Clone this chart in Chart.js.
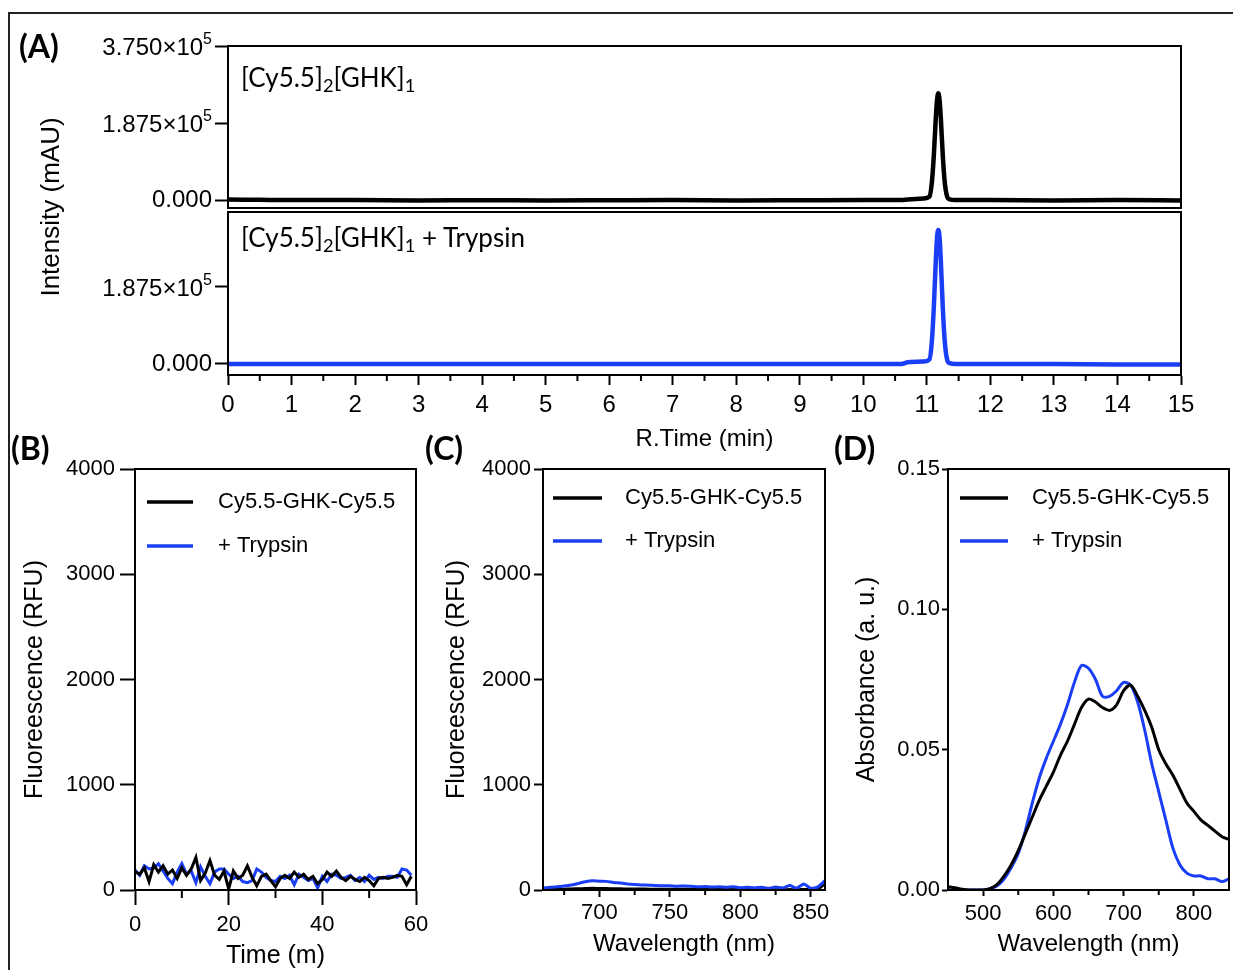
<!DOCTYPE html>
<html>
<head>
<meta charset="utf-8">
<script src="https://cdn.jsdelivr.net/npm/chart.js@4.4.1/dist/chart.umd.min.js"></script>
<style>
  body { margin: 0; background: #fff; width: 1233px; height: 970px; position: relative; overflow: hidden;
         font-family: 'Liberation Sans', Arial, sans-serif; color: #000; }
  .frame { position: absolute; left: 8px; top: 12px; width: 1300px; height: 1000px;
           border-left: 2px solid #222; border-top: 2px solid #222; }
  .box { position: absolute; }
  .panel { position: absolute; font-family: Lato, 'Open Sans', sans-serif; font-weight: bold; font-size: 32px; line-height: 32px; }
  .note { position: absolute; font-family: Lato, 'Open Sans', sans-serif; font-size: 26px; line-height: 26px; white-space: nowrap; }
  .note sub { font-size: 0.7em; vertical-align: -0.3em; line-height: 0; }
  #ytitle { position: absolute; left: 50px; top: 207px; transform: translate(-50%, -50%) rotate(-90deg);
            white-space: nowrap; font-size: 26px; }
</style>
</head>
<body>
<div class="frame"></div>

<div class="box" style="left:0;top:30px"><canvas id="aTop" width="1233" height="200"></canvas></div>
<div class="box" style="left:0;top:190px"><canvas id="aBottom" width="1233" height="280"></canvas></div>
<div class="box" style="left:0;top:420px"><canvas id="chartB" width="440" height="570"></canvas></div>
<div class="box" style="left:430px;top:420px"><canvas id="chartC" width="420" height="570"></canvas></div>
<div class="box" style="left:840px;top:420px"><canvas id="chartD" width="420" height="570"></canvas></div>

<div class="panel" style="left:19px;top:30px">(A)</div>
<div class="panel" style="left:11px;top:432px">(B)</div>
<div class="panel" style="left:425px;top:432px">(C)</div>
<div class="panel" style="left:834px;top:432px">(D)</div>
<div class="note" style="left:241px;top:64px">[Cy5.5]<sub>2</sub>[GHK]<sub>1</sub></div>
<div class="note" style="left:241px;top:224px">[Cy5.5]<sub>2</sub>[GHK]<sub>1</sub> + Trypsin</div>
<div id="ytitle">Intensity (mAU)</div>

<script>
// (A) HPLC traces
const rtTime = [0, 0.5, 1, 2, 3, 4, 5, 6, 7, 8, 9, 10, 10.6, 10.7, 10.95, 11.04, 11.08, 11.11, 11.14, 11.16,
  11.18, 11.2, 11.22, 11.25, 11.28, 11.32, 11.36, 11.45, 12, 13, 14, 15];
const rtProbe = [1000, 500, 0, 0, -1000, -500, -1000, -500, 0, -1000, -500, 0, 0, 1500, 3500, 8000, 45000,
  110000, 198000, 243000, 260000, 243000, 198000, 110000, 45000, 8000, 1500, 0, 0, -1000, 0, -1000];
const rtTrypsin = [0, 0, 0, 0, 0, 0, 0, 0, 0, 0, 0, 0, 0, 4000, 6000, 11000, 58000, 140000, 250000, 308000,
  326000, 308000, 250000, 140000, 58000, 10000, 2000, 0, 0, 0, -1000, -1000];
const rtTicks = [0, 1, 2, 3, 4, 5, 6, 7, 8, 9, 10, 11, 12, 13, 14, 15];
const aTopTicks = [0, 187500, 375000];
const aBottomTicks = [0, 187500];

// (B) fluorescence vs time
const kinTime = [0, 1, 2, 3, 4, 5, 6, 7, 8, 9, 10, 11, 12, 13, 14, 15, 16, 17, 18, 19, 20, 21, 22, 23, 24, 25,
  26, 27, 28, 29, 30, 31, 32, 33, 34, 35, 36, 37, 38, 39, 40, 41, 42, 43, 44, 45, 46, 47, 48, 49, 50, 51, 52,
  53, 54, 55, 56, 57, 58, 59];
const kinProbe = [175, 150, 210, 80, 240, 170, 230, 150, 190, 110, 210, 140, 200, 310, 90, 160, 280, 140, 100,
  180, 10, 180, 110, 140, 230, 120, 40, 130, 150, 90, 30, 110, 140, 110, 170, 120, 150, 100, 130, 60, 100, 170,
  130, 180, 120, 90, 130, 100, 80, 120, 90, 40, 110, 120, 110, 120, 140, 130, 50, 130];
const kinTrypsin = [190, 140, 230, 200, 210, 250, 180, 110, 60, 170, 250, 150, 180, 70, 220, 130, 60, 170, 200,
  200, 150, 110, 130, 80, 70, 90, 200, 170, 120, 90, 80, 130, 110, 140, 50, 150, 120, 90, 110, 20, 130, 80, 150,
  140, 110, 120, 140, 90, 120, 80, 140, 100, 120, 110, 130, 130, 120, 200, 190, 140];
const kinXTicks = [0, 20, 40, 60];
const fluoYTicks = [0, 1000, 2000, 3000, 4000];

// (C) emission spectra
const emWave = [660, 665, 670, 675, 680, 685, 690, 695, 700, 705, 710, 715, 720, 725, 730, 735, 740, 745, 750,
  755, 760, 765, 770, 775, 780, 785, 790, 795, 800, 805, 810, 815, 820, 825, 830, 835, 840, 845, 850, 855, 860];
const emProbe = [5, 5, 6, 8, 10, 12, 14, 16, 15, 14, 12, 11, 10, 9, 9, 8, 8, 7, 7, 6, 6, 6, 5, 5, 5, 5, 4, 4, 4,
  4, 4, 4, 3, 3, 3, 4, 3, 5, 4, 10, 60];
const emTrypsin = [20, 25, 30, 38, 48, 62, 78, 88, 84, 82, 72, 66, 58, 52, 48, 46, 42, 41, 40, 36, 38, 35, 30,
  33, 28, 30, 25, 30, 22, 26, 20, 26, 16, 28, 20, 42, 18, 58, 15, 30, 90];
const emXTicks = [700, 750, 800, 850];

// (D) absorbance spectra
const absWave = [450, 460, 470, 480, 490, 500, 510, 520, 530, 540, 550, 560, 570, 580, 590, 600, 610, 620, 630,
  640, 650, 660, 670, 680, 690, 700, 710, 720, 730, 740, 750, 760, 770, 780, 790, 800, 810, 820, 830, 840, 850];
const absProbe = [0.0012, 0.0008, 0.0003, 0, 0, 0, 0.0005, 0.002, 0.005, 0.009, 0.014, 0.020, 0.026, 0.032,
  0.037, 0.042, 0.048, 0.053, 0.059, 0.065, 0.068, 0.067, 0.065, 0.064, 0.066, 0.071, 0.073, 0.069, 0.064,
  0.058, 0.050, 0.045, 0.041, 0.036, 0.031, 0.028, 0.025, 0.023, 0.021, 0.019, 0.018];
const absTrypsin = [0, 0, 0, 0, 0, 0, 0.0005, 0.0015, 0.004, 0.008, 0.013, 0.021, 0.031, 0.040, 0.047, 0.053,
  0.059, 0.066, 0.074, 0.080, 0.079, 0.075, 0.069, 0.069, 0.071, 0.074, 0.073, 0.067, 0.057, 0.045, 0.035,
  0.025, 0.015, 0.009, 0.006, 0.005, 0.005, 0.004, 0.004, 0.003, 0.004];
const absXTicks = [500, 600, 700, 800];
const absYTicks = [0, 0.05, 0.10, 0.15];

const BLACK = '#000000';
const BLUE = '#1a3ef5';
const FONT = "'Liberation Sans', Arial, sans-serif";

Chart.defaults.font.family = FONT;
Chart.defaults.color = '#000';

const pts = (xs, ys) => xs.map((x, i) => ({ x: x, y: ys[i] }));

// box around the plot area
const framePlugin = {
  id: 'frame',
  afterDraw(chart) {
    const { ctx, chartArea: a } = chart;
    ctx.save();
    ctx.strokeStyle = '#000';
    ctx.lineWidth = 2;
    ctx.strokeRect(a.left, a.top, a.right - a.left, a.bottom - a.top);
    ctx.restore();
  }
};

// short unlabelled ticks between the labelled ones
const minorPlugin = {
  id: 'minor',
  afterDraw(chart, args, o) {
    if (!o.values) return;
    const s = chart.scales.x, ctx = chart.ctx;
    ctx.save();
    ctx.strokeStyle = '#000';
    ctx.lineWidth = 2;
    ctx.beginPath();
    o.values.forEach(v => {
      const px = s.getPixelForValue(v);
      ctx.moveTo(px, s.top);
      ctx.lineTo(px, s.top + o.len);
    });
    ctx.stroke();
    ctx.restore();
  }
};

// y labels of the HPLC panels: mantissa x 10 with a raised exponent
const sciLabels = {
  id: 'sciLabels',
  afterDraw(chart, args, o) {
    if (!o.right) return;
    const s = chart.scales.y, ctx = chart.ctx;
    const x = s.right - o.right;
    ctx.save();
    ctx.fillStyle = '#000';
    ctx.textBaseline = 'middle';
    ctx.textAlign = 'right';
    s.ticks.forEach(t => {
      const y = s.getPixelForValue(t.value);
      if (t.value === 0) {
        ctx.font = '24px ' + FONT;
        ctx.fillText('0.000', x, y);
        return;
      }
      ctx.font = '16px ' + FONT;
      ctx.fillText('5', x, y - 6);
      const w = ctx.measureText('5').width;
      ctx.font = '24px ' + FONT;
      ctx.fillText((t.value / 1e5).toFixed(3) + '×10', x - w, y + 2);
    });
    ctx.restore();
  }
};

// legend drawn inside the plot, line sample + label
const innerLegend = {
  id: 'innerLegend',
  afterDraw(chart, args, o) {
    if (o.x === undefined) return;
    const { ctx, chartArea: a } = chart;
    ctx.save();
    ctx.font = '22px ' + FONT;
    ctx.textBaseline = 'middle';
    ctx.fillStyle = '#000';
    chart.data.datasets.forEach((ds, i) => {
      const y = a.top + o.y + i * o.dy;
      ctx.strokeStyle = ds.borderColor;
      ctx.lineWidth = 3.5;
      ctx.beginPath();
      ctx.moveTo(a.left + o.x, y);
      ctx.lineTo(a.left + o.x + o.len, y);
      ctx.stroke();
      ctx.fillText(ds.label, a.left + o.textX, y);
    });
    ctx.restore();
  }
};

function yAxis(o) {
  return {
    type: 'linear', position: 'left', min: o.min, max: o.max,
    afterFit: s => { s.width = o.width; },
    afterBuildTicks: s => { s.ticks = o.ticks.map(v => ({ value: v })); },
    border: { display: true, color: '#000', width: 2 },
    grid: { drawOnChartArea: false, tickLength: o.tl, tickColor: '#000', tickWidth: 2 },
    ticks: { display: o.labels !== false, padding: o.pad, font: { size: o.size }, color: '#000', callback: o.fmt },
    title: o.title
      ? { display: true, text: o.title, color: '#000', font: { size: 25 }, padding: { top: o.titlePad, bottom: 0 } }
      : { display: false }
  };
}

function xAxis(o) {
  return {
    type: 'linear', position: 'bottom', min: o.min, max: o.max, display: o.display !== false,
    afterFit: s => { s.height = o.height; },
    afterBuildTicks: s => { s.ticks = o.ticks.map(v => ({ value: v })); },
    border: { display: true, color: '#000', width: 2 },
    grid: { drawOnChartArea: false, tickLength: o.tl, tickColor: '#000', tickWidth: 2 },
    ticks: { padding: o.pad, font: { size: o.size }, color: '#000', maxRotation: 0, autoSkip: false },
    title: o.title
      ? { display: true, text: o.title, color: '#000', font: { size: o.titleSize || 24 }, padding: { top: 0, bottom: 0 } }
      : { display: false }
  };
}

function line(label, xs, ys, color, width, extra) {
  return Object.assign({
    label: label, data: pts(xs, ys), borderColor: color, backgroundColor: color,
    borderWidth: width, pointRadius: 0, fill: false, tension: 0
  }, extra || {});
}

const base = {
  type: 'line',
  plugins: [framePlugin, minorPlugin, innerLegend, sciLabels]
};
const commonOptions = {
  responsive: false, animation: false, events: [],
  plugins: { legend: { display: false }, tooltip: { enabled: false } }
};

const rtMinor = [0.5, 1.5, 2.5, 3.5, 4.5, 5.5, 6.5, 7.5, 8.5, 9.5, 10.5, 11.5, 12.5, 13.5, 14.5];

new Chart(document.getElementById('aTop'), Object.assign({}, base, {
  data: { datasets: [line('[Cy5.5]2[GHK]1', rtTime, rtProbe, BLACK, 4.5, { cubicInterpolationMode: 'monotone' })] },
  options: Object.assign({}, commonOptions, {
    layout: { padding: { left: 0, top: 16, right: 52, bottom: 22 } },
    plugins: Object.assign({}, commonOptions.plugins, { sciLabels: { right: 16 } }),
    scales: {
      x: xAxis({ min: 0, max: 15, ticks: rtTicks, display: false, height: 0, tl: 10, pad: 6, size: 24 }),
      y: yAxis({ min: -19480, max: 375000, ticks: aTopTicks, width: 228, tl: 13, pad: 3, size: 22, labels: false })
    }
  })
}));

new Chart(document.getElementById('aBottom'), Object.assign({}, base, {
  data: { datasets: [line('[Cy5.5]2[GHK]1 + Trypsin', rtTime, rtTrypsin, BLUE, 4.5, { cubicInterpolationMode: 'monotone' })] },
  options: Object.assign({}, commonOptions, {
    layout: { padding: { left: 0, top: 22, right: 52, bottom: 16 } },
    plugins: Object.assign({}, commonOptions.plugins, {
      minor: { values: rtMinor, len: 6 },
      sciLabels: { right: 16 }
    }),
    scales: {
      x: xAxis({ min: 0, max: 15, ticks: rtTicks, height: 79, tl: 10, pad: 6, size: 24, title: 'R.Time (min)' }),
      y: yAxis({ min: -26786, max: 370130, ticks: aBottomTicks, width: 228, tl: 13, pad: 3, size: 22, labels: false })
    }
  })
}));

new Chart(document.getElementById('chartB'), Object.assign({}, base, {
  data: {
    datasets: [
      line('Cy5.5-GHK-Cy5.5', kinTime, kinProbe, BLACK, 3),
      line('+ Trypsin', kinTime, kinTrypsin, BLUE, 3)
    ]
  },
  options: Object.assign({}, commonOptions, {
    layout: { padding: { left: 0, top: 49, right: 24, bottom: 19 } },
    plugins: Object.assign({}, commonOptions.plugins, {
      minor: { values: [10, 30, 50], len: 8 },
      innerLegend: { x: 12, len: 46, textX: 83, y: 33, dy: 44 }
    }),
    scales: {
      x: xAxis({ min: 0, max: 60, ticks: kinXTicks, height: 81, tl: 15, pad: 7, size: 22, title: 'Time (m)', titleSize: 25 }),
      y: yAxis({ min: 0, max: 4000, ticks: fluoYTicks, width: 135, tl: 15, pad: 5, size: 22,
                 title: 'Fluoreescence (RFU)', titlePad: 20 })
    }
  })
}));

new Chart(document.getElementById('chartC'), Object.assign({}, base, {
  data: {
    datasets: [
      line('Cy5.5-GHK-Cy5.5', emWave, emProbe, BLACK, 3, { order: 1, tension: 0.2 }),
      line('+ Trypsin', emWave, emTrypsin, BLUE, 3, { order: 0, tension: 0.2 })
    ]
  },
  options: Object.assign({}, commonOptions, {
    layout: { padding: { left: 0, top: 49, right: 25, bottom: 31 } },
    plugins: Object.assign({}, commonOptions.plugins, {
      minor: { values: [675, 725, 775, 825], len: 5 },
      innerLegend: { x: 10, len: 49, textX: 82, y: 29, dy: 43 }
    }),
    scales: {
      x: xAxis({ min: 660, max: 860, ticks: emXTicks, height: 69, tl: 7, pad: 3, size: 22, title: 'Wavelength (nm)' }),
      y: yAxis({ min: 0, max: 4000, ticks: fluoYTicks, width: 113, tl: 9, pad: 3, size: 22,
                 title: 'Fluoreescence (RFU)', titlePad: 12 })
    }
  })
}));

new Chart(document.getElementById('chartD'), Object.assign({}, base, {
  data: {
    datasets: [
      line('Cy5.5-GHK-Cy5.5', absWave, absProbe, BLACK, 3, { tension: 0.3 }),
      line('+ Trypsin', absWave, absTrypsin, BLUE, 3, { tension: 0.3 })
    ]
  },
  options: Object.assign({}, commonOptions, {
    layout: { padding: { left: 0, top: 49, right: 31, bottom: 31 } },
    plugins: Object.assign({}, commonOptions.plugins, {
      minor: { values: [550, 650, 750], len: 5 },
      innerLegend: { x: 12, len: 48, textX: 84, y: 29, dy: 43 }
    }),
    scales: {
      x: xAxis({ min: 450, max: 850, ticks: absXTicks, height: 69, tl: 6, pad: 5, size: 22, title: 'Wavelength (nm)' }),
      y: yAxis({ min: 0, max: 0.15, ticks: absYTicks, width: 108, tl: 6, pad: 2, size: 22,
                 fmt: v => v.toFixed(2), title: 'Absorbance (a. u.)', titlePad: 12 })
    }
  })
}));
</script>
</body>
</html>
